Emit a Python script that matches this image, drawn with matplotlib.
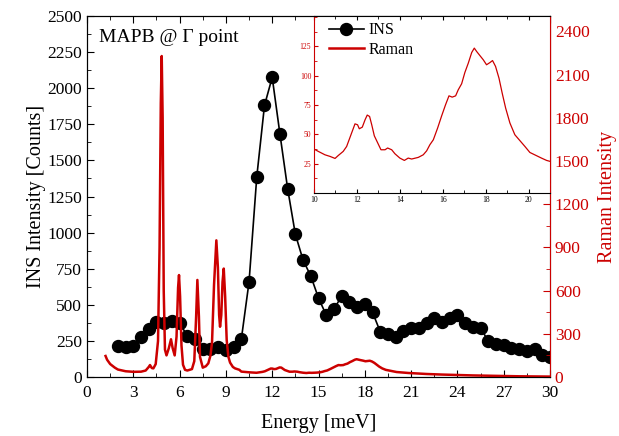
import numpy as np
import matplotlib
matplotlib.use("Agg")
import matplotlib.pyplot as plt
from matplotlib.ticker import MultipleLocator

plt.rcParams["font.family"] = ["Liberation Serif", "DejaVu Serif"]
plt.rcParams["mathtext.fontset"] = "stix"

RED = "#cc0000"

# INS data, 0.5 meV steps
ins_energy = np.arange(2.0, 30.01, 0.5)
ins_counts = [215, 208, 215, 275, 330, 383, 372, 390, 372, 286,
              263, 196, 192, 206, 185, 210, 263, 660, 1387, 1881,
              2075, 1683, 1304, 988, 810, 699, 547, 429, 471, 559,
              522, 485, 508, 448, 314, 298, 279, 319, 337, 337,
              376, 411, 383, 411, 427, 376, 346, 342, 247, 229,
              224, 199, 194, 180, 196, 152, 136]

# Raman spectrum (1.2 - 10 meV)
raman_low_e = [1.2, 1.3, 1.5, 1.8, 2.0, 2.5, 3.0, 3.5, 3.8, 4.0,
               4.08, 4.2, 4.3, 4.45, 4.6, 4.7, 4.78, 4.84, 4.9, 4.97,
               5.05, 5.15, 5.3, 5.44, 5.55, 5.68, 5.8, 5.9, 5.96, 6.03,
               6.12, 6.22, 6.35, 6.5, 6.8, 6.95, 7.07, 7.15, 7.25, 7.32,
               7.5, 7.7, 7.86, 8.0, 8.1, 8.23, 8.38, 8.48, 8.56, 8.62,
               8.7, 8.78, 8.86, 8.95, 9.05, 9.16, 9.27, 9.45, 9.59, 9.87]
raman_low_i = [146, 120, 90, 65, 52, 40, 36, 37, 45, 70,
               83, 62, 60, 90, 250, 900, 1900, 2229, 1800, 600,
               190, 150, 200, 262, 200, 150, 280, 620, 708, 560,
               220, 85, 50, 45, 55, 110, 420, 674, 420, 140,
               65, 75, 95, 150, 240, 640, 949, 760, 430, 349,
               430, 660, 753, 560, 257, 140, 100, 70, 60, 50]

# Raman spectrum (10 - 21 meV)
raman_mid_e = [10.0, 10.2, 10.51, 10.75, 10.98, 11.13, 11.36, 11.52, 11.72, 11.91,
               12.03, 12.11, 12.25, 12.38, 12.48, 12.59, 12.69, 12.81, 12.97, 13.12,
               13.31, 13.43, 13.62, 13.77, 14.0, 14.21, 14.39, 14.55, 14.86, 15.09,
               15.25, 15.40, 15.56, 15.76, 15.95, 16.13, 16.29, 16.44, 16.6, 16.72,
               16.88, 17.03, 17.19, 17.35, 17.47, 17.58, 17.70, 17.89, 18.04, 18.2,
               18.32, 18.46, 18.62, 18.77, 18.93, 19.13, 19.36, 19.59, 19.83, 20.06,
               20.37, 20.6, 20.84, 21.0]
raman_mid_i = [37.5, 35.5, 32.6, 31.2, 29.5, 32, 35.5, 39.7, 49.7, 59,
               58.2, 54.8, 56.2, 62.5, 66.5, 65.3, 58.2, 48.8, 42.6, 36.9,
               36.9, 38.4, 36.9, 33.5, 29.8, 27.8, 29.8, 29, 30.4, 32.6,
               36, 41.2, 45.4, 55.4, 65.9, 75.3, 82.9, 81.8, 82.9, 88,
               93.2, 102.8, 110.8, 119.9, 123.6, 120.7, 117.9, 113.6, 109.4, 111.3,
               113, 108, 98, 85.2, 72.5, 59.7, 49.7, 44.8, 39.7, 34.6,
               31.8, 29.8, 27.8, 27]

# tail of the Raman spectrum
raman_high_e = [21.5, 22, 23, 24, 25, 26, 27, 28, 29, 30]
raman_high_i = [24, 21, 17, 14, 11, 9, 7, 5, 4, 3]

raman_e = np.array(raman_low_e + raman_mid_e + raman_high_e)
raman_i = np.array(raman_low_i + raman_mid_i + raman_high_i)

fig = plt.figure(figsize=(6.19, 4.36), dpi=100)
ax = fig.add_axes([0.1406, 0.1353, 0.7479, 0.828])

ax.plot(ins_energy, ins_counts, color="black", lw=1.2, marker="o", ms=8.6,
        label="INS")
ax.set_xlim(0, 30)
ax.set_ylim(0, 2500)
ax.xaxis.set_major_locator(MultipleLocator(3))
ax.xaxis.set_minor_locator(MultipleLocator(1.5))
ax.yaxis.set_major_locator(MultipleLocator(250))
ax.yaxis.set_minor_locator(MultipleLocator(125))
ax.tick_params(which="both", direction="in", top=True, labelsize=12.5)
ax.tick_params(which="major", length=5)
ax.tick_params(which="minor", length=3)
ax.tick_params(axis="x", pad=6)
ax.set_xlabel("Energy [meV]", fontsize=14.5, labelpad=9)
ax.set_ylabel("INS Intensity [Counts]", fontsize=14.5, labelpad=1)
ax.text(0.026, 0.965, "MAPB @ Γ point", transform=ax.transAxes,
        fontsize=14, va="top", ha="left")

ax2 = ax.twinx()
ax2.plot(raman_e, raman_i, color=RED, lw=1.8)
ax2.set_ylim(0, 2507)
ax2.yaxis.set_major_locator(MultipleLocator(300))
ax2.yaxis.set_minor_locator(MultipleLocator(150))
ax2.tick_params(which="both", direction="in", colors=RED, labelsize=12.5)
ax2.tick_params(which="major", length=5)
ax2.tick_params(which="minor", length=3)
ax2.spines["right"].set_color(RED)
ax2.set_ylabel("Raman Intensity", color=RED, fontsize=14.5, labelpad=6)

# inset with the Raman spectrum between 10 and 21 meV
ins = fig.add_axes([0.5073, 0.5573, 0.3813, 0.406])
ins.plot(raman_e, raman_i, color=RED, lw=0.9)
ins.set_xlim(10, 21)
ins.set_ylim(0, 151)
ins.set_xticks([10, 12, 14, 16, 18, 20])
ins.xaxis.set_minor_locator(MultipleLocator(1))
ins.set_yticks([25, 50, 75, 100, 125])
ins.yaxis.set_minor_locator(MultipleLocator(12.5))
ins.tick_params(which="both", direction="in", top=True, labelsize=5.5, pad=2)
ins.tick_params(which="major", length=3)
ins.tick_params(which="minor", length=2)
ins.tick_params(axis="y", which="both", colors=RED)
ins.spines["left"].set_color(RED)
ins.spines["right"].set_color(RED)

# legend sits in the inset
h1 = plt.Line2D([], [], color="black", lw=1.2, marker="o", ms=8.6)
h2 = plt.Line2D([], [], color=RED, lw=1.8)
ins.legend([h1, h2], ["INS", "Raman"], loc="upper left", frameon=False,
           bbox_to_anchor=(0.035, 1.0), fontsize=11.5, handlelength=2.2,
           borderaxespad=0.1, labelspacing=0.2, handletextpad=0.3,
           borderpad=0.3)

fig.savefig("out.png", dpi=100)
